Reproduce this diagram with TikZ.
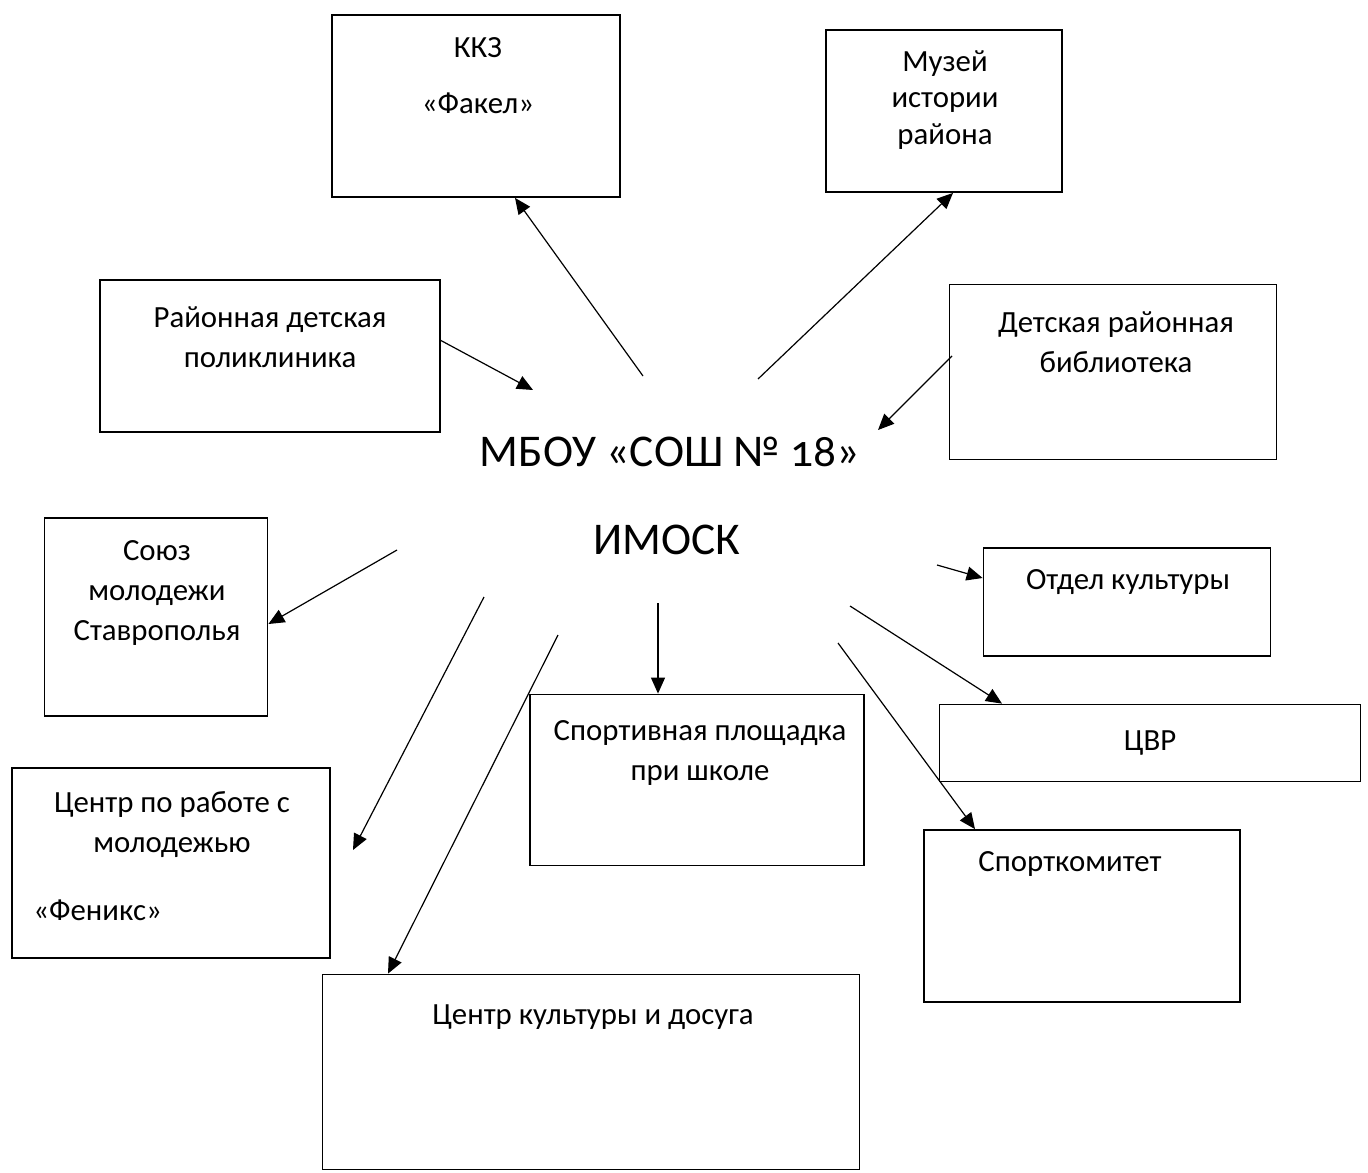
\documentclass[tikz,border=0pt]{standalone}
\usepackage{fontspec}
\setmainfont{Carlito}[Numbers=OldStyle]
\usetikzlibrary{arrows.meta}
\begin{document}
\begin{tikzpicture}[x=0.5pt,y=-0.5pt,
  box/.style={draw,line width=0.9pt,rectangle,inner sep=0pt},
  lbl/.style={font=\fontsize{15.4}{20}\selectfont,align=center,inner sep=0pt},
  big/.style={font=\fontsize{22.7}{26}\selectfont,inner sep=0pt},
  arr/.style={line width=0.6pt,-{Triangle[length=8pt,width=7pt]}}]
\useasboundingbox (0,0) rectangle (1368,1172);
% boxes (sizes in pt = px/2)
\node[box,minimum width=144pt,minimum height=91pt] (kkz) at (476,106) {};
\node[box,minimum width=118pt,minimum height=81pt] (muz) at (944,111) {};
\node[box,minimum width=170pt,minimum height=76pt] (pol) at (270,356) {};
\node[box,minimum width=163.5pt,minimum height=87.5pt] (bib) at (1113,372) {};
\node[box,minimum width=111.5pt,minimum height=99pt] (soyuz) at (156,617) {};
\node[box,minimum width=143.5pt,minimum height=54pt] (otd) at (1127,602) {};
\node[box,minimum width=210.5pt,minimum height=38.5pt] (cvr) at (1150,743) {};
\node[box,minimum width=167pt,minimum height=85.5pt] (sport) at (697,780) {};
\node[box,minimum width=159pt,minimum height=95pt] (fen) at (171,863) {};
\node[box,minimum width=158pt,minimum height=86pt] (spk) at (1082,916) {};
\node[box,minimum width=268.5pt,minimum height=97.5pt] (ckd) at (591,1072) {};
% texts
\node[lbl] (kkzt1) at (478,48) {ККЗ};
\node[lbl] (kkzt2) at (478,103) {«Факел»};
\node[lbl,font=\fontsize{15.4}{18.3}\selectfont] (muzt) at (945,100) {Музей\\истории\\района};
\node[lbl] (polt) at (270,337) {Районная детская\\поликлиника};
\node[lbl] (bibt) at (1116,342) {Детская районная\\библиотека};
\node[lbl] (soyuzt) at (157,593) {Союз\\молодежи\\Ставрополья};
\node[lbl] (otdt) at (1128,582) {Отдел культуры};
\node[lbl] (cvrt) at (1150,743) {ЦВР};
\node[lbl] (sportt) at (700,753) {Спортивная площадка\\при школе};
\node[lbl] (fent) at (172,825) {Центр по работе с\\молодежью};
\node[lbl,anchor=west] (fent2) at (33,910) {«Феникс»};
\node[lbl] (spkt) at (1070,864) {Спорткомитет};
\node[lbl] (ckdt) at (593,1017) {Центр культуры и досуга};
% center
\node[big] (school) at (670,452) {МБОУ «СОШ № 18»};
\node[big] (imosk) at (667,540) {ИМОСК};
% free ends
\coordinate (a1) at (643,376);
\coordinate (a2) at (758,379);
\coordinate (a3s) at (440,340);
\coordinate (a3e) at (533,390);
\coordinate (a4s) at (952,356);
\coordinate (a4e) at (878,430);
\coordinate (a5) at (397,550);
\coordinate (a6) at (937,565);
\coordinate (a7) at (850,606);
\coordinate (a8) at (658,603);
\coordinate (a9) at (484,597);
\coordinate (a9e) at (353,850);
\coordinate (a10) at (558,635);
\coordinate (a11) at (838,643);
% arrows
\draw[arr] (a1) -- (kkz.south -| 515,0);
\draw[arr] (a2) -- (muz.south -| 953,0);
\draw[arr] (a3s) -- (a3e);
\draw[arr] (a4s) -- (a4e);
\draw[arr] (a5) -- (soyuz.east |- 0,624);
\draw[arr] (a6) -- (otd.west |- 0,578);
\draw[arr] (a7) -- (cvr.north -| 1002,0);
\draw[arr] (a8) -- (sport.north -| 658,0);
\draw[arr] (a9) -- (a9e);
\draw[arr] (a10) -- (ckd.north -| 388,0);
\draw[arr] (a11) -- (spk.north -| 975,0);
\end{tikzpicture}
\end{document}
